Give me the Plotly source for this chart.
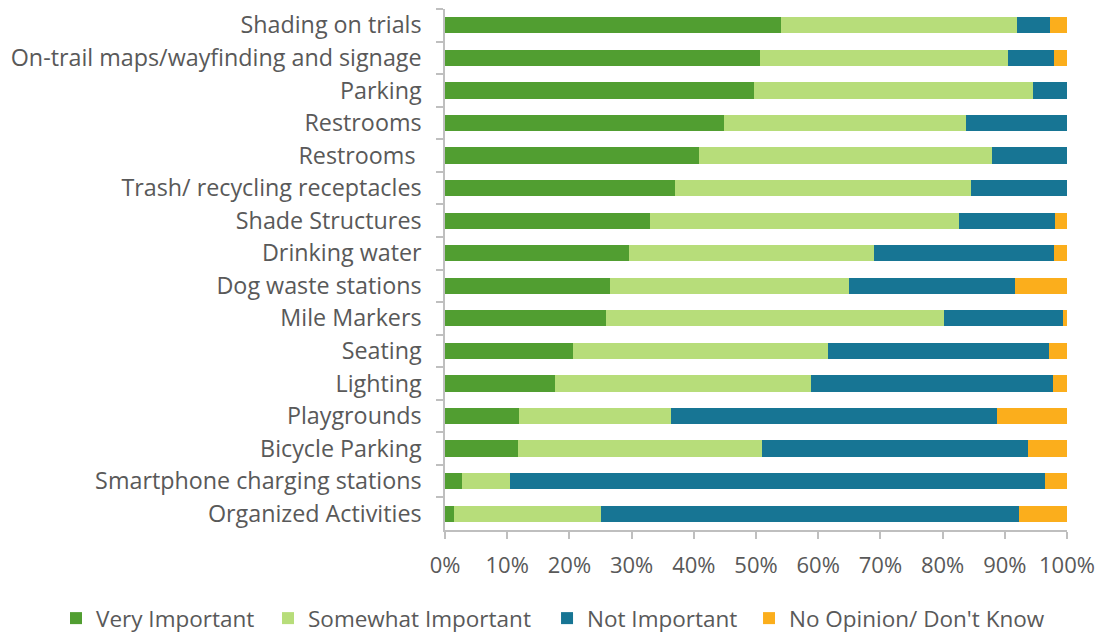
import plotly.graph_objects as go

# Survey amenities and share of responses (%) per importance level
amenities = [
    "Shading on trials",
    "On-trail maps/wayfinding and signage",
    "Parking",
    "Restrooms",
    "Restrooms ",
    "Trash/ recycling receptacles",
    "Shade Structures",
    "Drinking water",
    "Dog waste stations",
    "Mile Markers",
    "Seating",
    "Lighting",
    "Playgrounds",
    "Bicycle Parking",
    "Smartphone charging stations",
    "Organized Activities",
]

very_important = [54.0, 50.6, 49.6, 44.8, 40.9, 36.9, 32.9, 29.6, 26.5, 25.9, 20.5, 17.7, 11.9, 11.7, 2.7, 1.4]
somewhat_important = [38.0, 39.9, 45.0, 38.9, 47.0, 47.7, 49.7, 39.4, 38.5, 54.4, 41.1, 41.1, 24.5, 39.3, 7.7, 23.6]
not_important = [5.3, 7.4, 5.4, 16.3, 12.1, 15.4, 15.4, 28.9, 26.6, 19.0, 35.5, 39.0, 52.4, 42.8, 86.1, 67.3]
no_opinion = [2.7, 2.1, 0.0, 0.0, 0.0, 0.0, 2.0, 2.1, 8.4, 0.7, 2.9, 2.2, 11.2, 6.2, 3.5, 7.7]

tick_vals = [0, 10, 20, 30, 40, 50, 60, 70, 80, 90, 100]
tick_text = ["0%", "10%", "20%", "30%", "40%", "50%", "60%", "70%", "80%", "90%", "100%"]

# name, values, colour, legend id, left edge of its legend entry (fraction of page width)
series = [
    ("Very Important", very_important, "#519E31", "legend", 0.0508),
    ("Somewhat Important", somewhat_important, "#B7DD7A", "legend2", 0.2432),
    ("Not Important", not_important, "#177594", "legend3", 0.4964),
    ("No Opinion/ Don't Know", no_opinion, "#FBAE1C", "legend4", 0.6797),
]

text_color = "#595959"
axis_color = "#BFBFBF"

fig = go.Figure()
legends = {}
for name, values, color, legend_id, legend_x in series:
    fig.add_trace(go.Bar(
        name=name,
        y=amenities,
        x=values,
        orientation="h",
        marker=dict(color=color, line=dict(width=0)),
        hoverinfo="x+y+name",
        legend=legend_id,
    ))
    # one legend box per series so the row can span the whole page
    legends[legend_id] = dict(
        orientation="h",
        xref="container",
        yref="container",
        x=legend_x,
        xanchor="left",
        y=0.026,
        yanchor="middle",
        font=dict(size=22.5, color=text_color),
        bgcolor="rgba(0,0,0,0)",
        itemwidth=30,
    )

fig.update_layout(
    barmode="stack",
    bargap=0.5,
    width=1102,
    height=635,
    margin=dict(l=445, r=35, t=9, b=105),
    paper_bgcolor="white",
    plot_bgcolor="white",
    font=dict(family="Open Sans, Lato, sans-serif", color=text_color, size=22),
    showlegend=True,
    **legends,
)

fig.update_xaxes(
    range=[0, 100],
    tickvals=tick_vals,
    ticktext=tick_text,
    showgrid=False,
    zeroline=False,
    showline=True,
    linecolor=axis_color,
    linewidth=1.5,
    ticks="outside",
    ticklen=7,
    tickcolor=axis_color,
    tickwidth=1.5,
    ticklabelstandoff=8,
    tickfont=dict(size=22, color=text_color),
    automargin=False,
)

fig.update_yaxes(
    autorange="reversed",
    showgrid=False,
    showline=True,
    linecolor=axis_color,
    linewidth=1.5,
    ticks="outside",
    tickson="boundaries",
    ticklen=7,
    tickcolor=axis_color,
    tickwidth=1.5,
    ticklabelstandoff=17,
    tickfont=dict(size=23.3, color=text_color),
    automargin=False,
)

fig.write_html("out.html")
